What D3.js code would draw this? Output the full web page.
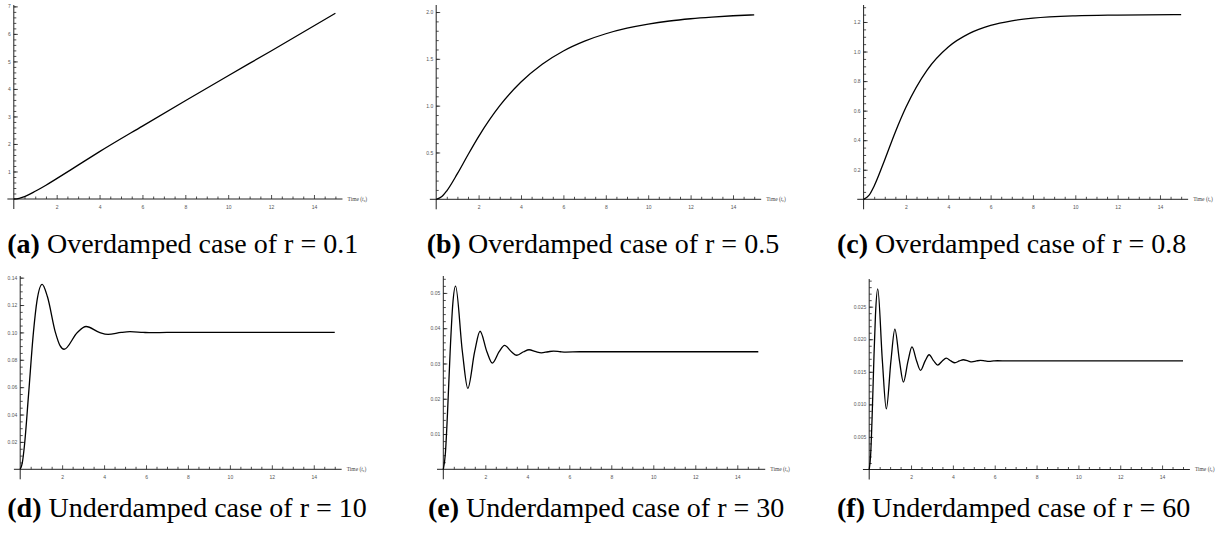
<!DOCTYPE html>
<html>
<head>
<meta charset="utf-8">
<script src="https://cdn.jsdelivr.net/npm/d3@7"></script>
<style>
  body { margin: 0; background: #fff; }
  .tick text { font-family: "Liberation Sans", Arial, sans-serif; font-size: 5px; fill: #555; }
</style>
</head>
<body>
<div id="container"></div>
<script>
// series: time (t_c) and response
var timeA  = [0, 0.25, 0.5, 1, 1.5, 2, 3, 4, 6, 8, 10, 12, 15];
var valueA = [0, 0.026, 0.09, 0.28, 0.5, 0.74, 1.23, 1.72, 2.65, 3.57, 4.48, 5.38, 6.75];

var timeB  = [0, 0.25, 0.5, 1, 1.5, 2, 3, 4, 5, 6, 7, 8, 9, 10, 11, 12, 13, 14, 15];
var valueB = [0, 0.026, 0.091, 0.274, 0.476, 0.670, 1.000, 1.252, 1.442, 1.584, 1.689, 1.768, 1.827, 1.871, 1.904, 1.928, 1.946, 1.960, 1.970];

var timeC  = [0, 0.25, 0.5, 1, 1.5, 2, 3, 4, 5, 6, 7, 8, 10, 12, 15];
var valueC = [0, 0.026, 0.0905, 0.268, 0.456, 0.623, 0.875, 1.031, 1.123, 1.177, 1.208, 1.226, 1.242, 1.247, 1.250];

var timeD  = [0, 0.1, 0.2, 0.4, 0.631, 0.8, 1.047, 1.3, 1.678, 1.9, 2.094, 2.725, 3.142, 3.772, 4.189, 4.819, 5.236, 5.866, 6.283, 7, 15];
var valueD = [0, 0.00465, 0.0170, 0.0549, 0.1, 0.1230, 0.1351, 0.1260, 0.1, 0.0903, 0.0877, 0.1, 0.1043, 0.1, 0.0985, 0.1, 0.1005, 0.1, 0.0998, 0.1, 0.1];

var timeE  = [0, 0.1, 0.2, 0.326, 0.45, 0.583, 0.909, 1.167, 1.493, 1.750, 2.076, 2.334, 2.659, 2.917, 3.243, 3.500, 3.826, 4.084, 4.410, 4.667, 4.993, 5.251, 5.576, 5.834, 6.5, 15];
var valueE = [0, 0.00457, 0.0159, 0.03333, 0.0467, 0.05193, 0.03333, 0.02295, 0.03333, 0.03913, 0.03333, 0.03010, 0.03333, 0.03514, 0.03333, 0.03233, 0.03333, 0.03389, 0.03333, 0.03302, 0.03333, 0.03351, 0.03333, 0.03324, 0.03333, 0.03333];

var timeF  = [0, 0.07, 0.14, 0.221, 0.3, 0.409, 0.630, 0.818, 1.039, 1.227, 1.448, 1.636, 1.857, 2.045, 2.266, 2.454, 2.675, 2.863, 3.084, 3.272, 3.493, 3.681, 3.902, 4.090, 4.311, 4.499, 4.720, 4.908, 5.129, 5.317, 5.538, 5.726, 5.947, 6.135, 6.6, 15];
var valueF = [0, 0.00228, 0.00812, 0.01667, 0.02375, 0.02774, 0.01667, 0.00931, 0.01667, 0.02155, 0.01667, 0.01342, 0.01667, 0.01882, 0.01667, 0.01523, 0.01667, 0.01762, 0.01667, 0.01603, 0.01667, 0.01709, 0.01667, 0.01639, 0.01667, 0.01685, 0.01667, 0.01654, 0.01667, 0.01675, 0.01667, 0.01661, 0.01667, 0.01670, 0.01667, 0.01667];

// tick labels
var xTicks  = [2, 4, 6, 8, 10, 12, 14];
var yTicksA = [1, 2, 3, 4, 5, 6, 7];
var yTicksB = [0.5, 1.0, 1.5, 2.0];
var yTicksC = [0.2, 0.4, 0.6, 0.8, 1.0, 1.2];
var yTicksD = [0.02, 0.04, 0.06, 0.08, 0.10, 0.12, 0.14];
var yTicksE = [0.01, 0.02, 0.03, 0.04, 0.05];
var yTicksF = [0.005, 0.010, 0.015, 0.020, 0.025];

var letters  = ["(a)", "(b)", "(c)", "(d)", "(e)", "(f)"];
var captions = ["Overdamped case of r = 0.1", "Overdamped case of r = 0.5", "Overdamped case of r = 0.8",
                "Underdamped case of r = 10", "Underdamped case of r = 30", "Underdamped case of r = 60"];

var W = 1226, H = 534;
var serif = "'Liberation Serif', 'DejaVu Serif', serif";

var svg = d3.select("#container").append("svg")
    .attr("width", W).attr("height", H)
    .style("background", "#fff");

// layout of the six panels
var panels = [
    { t: timeA, v: valueA, x0: 13.8,  unit: 21.44, axisY: 199,   topY: 5,   yMax: 7.05,   yt: yTicksA, minor: 0.2,   fmt: d3.format("d"),   capX: 7.3,  capY: 252.5 },
    { t: timeB, v: valueB, x0: 436.2, unit: 21.2,  axisY: 199.3, topY: 5,   yMax: 2.075,  yt: yTicksB, minor: 0.1,   fmt: d3.format(".1f"), capX: 426.7, capY: 252.5 },
    { t: timeC, v: valueC, x0: 863.6, unit: 21.17, axisY: 199.3, topY: 5,   yMax: 1.315,  yt: yTicksC, minor: 0.05,  fmt: d3.format(".1f"), capX: 837,  capY: 252.5 },
    { t: timeD, v: valueD, x0: 20.2,  unit: 20.97, axisY: 469.3, topY: 276, yMax: 0.1412, yt: yTicksD, minor: 0.005, fmt: d3.format(".2f"), capX: 7.3,  capY: 516.7 },
    { t: timeE, v: valueE, x0: 443.3, unit: 21.0,  axisY: 469.3, topY: 276, yMax: 0.0548, yt: yTicksE, minor: 0.002, fmt: d3.format(".2f"), capX: 428,  capY: 516.7 },
    { t: timeF, v: valueF, x0: 869.2, unit: 20.92, axisY: 469.5, topY: 279, yMax: 0.02925, yt: yTicksF, minor: 0.001, fmt: d3.format(".3f"), capX: 837,  capY: 516.7 }
];

panels.forEach(function (p, i) {
    var x = d3.scaleLinear().domain([0, 15]).range([p.x0, p.x0 + 15 * p.unit]);
    var y = d3.scaleLinear().domain([0, p.yMax]).range([p.axisY, p.topY]);
    var g = svg.append("g");

    // axis lines (Mathematica style, slightly past the origin)
    g.append("line")
        .attr("x1", x(-0.3)).attr("x2", x(15.33))
        .attr("y1", y(0)).attr("y2", y(0))
        .attr("stroke", "#222").attr("stroke-width", 1);
    g.append("line")
        .attr("x1", x(0)).attr("x2", x(0))
        .attr("y1", p.axisY + 10).attr("y2", y(p.yMax))
        .attr("stroke", "#222").attr("stroke-width", 1);

    // x ticks
    var xMinor = d3.range(0.5, 15.01, 0.5).filter(function (d) { return d % 2 !== 0; });
    g.append("g")
        .attr("transform", "translate(0," + y(0) + ")")
        .call(d3.axisBottom(x).tickValues(xMinor).tickSize(-2.5).tickFormat(""))
        .call(function (a) { a.select(".domain").remove(); });
    g.append("g")
        .attr("transform", "translate(0," + y(0) + ")")
        .call(d3.axisBottom(x).tickValues(xTicks).tickSize(-4).tickPadding(6).tickFormat(d3.format("d")))
        .call(function (a) { a.select(".domain").remove(); });

    // y ticks
    var yMinor = d3.range(p.minor, p.yMax, p.minor);
    g.append("g")
        .attr("transform", "translate(" + x(0) + ",0)")
        .call(d3.axisLeft(y).tickValues(yMinor).tickSize(-2.5).tickFormat(""))
        .call(function (a) { a.select(".domain").remove(); });
    g.append("g")
        .attr("transform", "translate(" + x(0) + ",0)")
        .call(d3.axisLeft(y).tickValues(p.yt).tickSize(-4).tickPadding(3).tickFormat(p.fmt))
        .call(function (a) { a.select(".domain").remove(); });

    g.selectAll(".tick line").attr("stroke", "#222").attr("stroke-width", 0.8);

    // axis label
    var lab = g.append("text")
        .attr("x", x(15.33) + 5).attr("y", y(0) + 1.8)
        .style("font-family", serif)
        .style("font-size", "5.5px")
        .style("fill", "#444");
    lab.append("tspan").text("Time (");
    lab.append("tspan").style("font-style", "italic").text("t");
    lab.append("tspan").attr("dy", 1).style("font-size", "3.8px").text("c");
    lab.append("tspan").attr("dy", -1).text(")");

    // response curve
    var pts = p.t.map(function (d, k) { return [d, p.v[k]]; });
    g.append("path")
        .datum(pts)
        .attr("fill", "none")
        .attr("stroke", "#000")
        .attr("stroke-width", 1.3)
        .attr("d", d3.line()
            .x(function (d) { return x(d[0]); })
            .y(function (d) { return y(d[1]); })
            .curve(d3.curveMonotoneX));

    // caption
    var cap = svg.append("text")
        .attr("x", p.capX).attr("y", p.capY)
        .style("font-family", serif)
        .style("font-size", "28px")
        .style("fill", "#000");
    cap.append("tspan").style("font-weight", "bold").text(letters[i]);
    cap.append("tspan").text(" " + captions[i]);
});
</script>
</body>
</html>
